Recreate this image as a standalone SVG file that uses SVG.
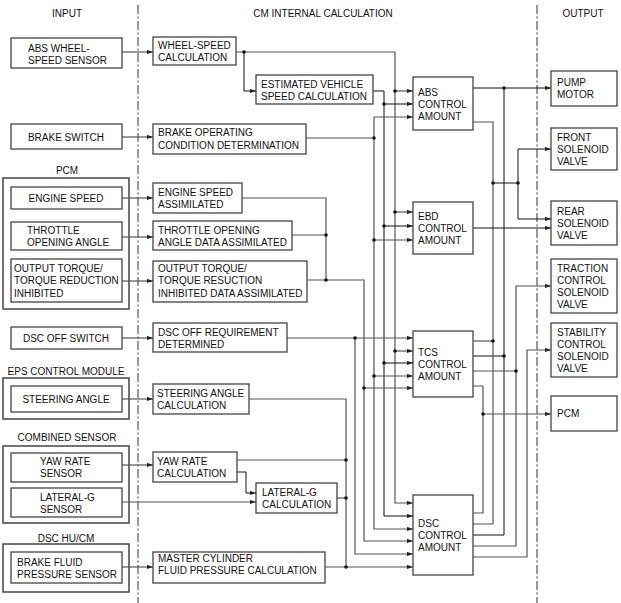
<svg xmlns="http://www.w3.org/2000/svg" width="621" height="603" viewBox="0 0 621 603">
<defs>
<marker id="ar" markerUnits="userSpaceOnUse" markerWidth="7" markerHeight="5" refX="6.5" refY="2.3" orient="auto"><path d="M0,0 L6.5,2.3 L0,4.6 z" fill="#222"/></marker>
<style>
text{font-family:"Liberation Sans",Arial,sans-serif;font-size:10px;fill:#111}
.c{text-anchor:middle}
rect{fill:#fff;stroke:#444;stroke-width:1.3}
.grp{fill:none;stroke:#444;stroke-width:1.5}
.ln{fill:none;stroke:#555;stroke-width:1.2}
.k{fill:none;stroke:#111;stroke-width:1}
.a{marker-end:url(#ar)}
.dd{fill:none;stroke:#333;stroke-width:1;stroke-dasharray:9 2.5 2 2.5}
circle{fill:#111}
</style>
</defs>
<rect x="0" y="0" width="621" height="603" style="fill:#fff;stroke:none"/>
<g id="dividers">
<path class="dd" d="M138,5 V603"/>
<path class="dd" d="M537,5 V603"/>
</g>
<g id="headers">
<text class="c" x="67" y="16.5">INPUT</text>
<text class="c" x="323" y="16.5">CM INTERNAL CALCULATION</text>
<text class="c" x="583" y="16.5">OUTPUT</text>
</g>
<g id="groups">
<text class="c" x="67" y="173.5">PCM</text>
<path class="grp" d="M3,178 H129 V309 H3 Z"/>
<text class="c" x="66" y="374.5">EPS CONTROL MODULE</text>
<path class="grp" d="M3,378 H129 V419 H3 Z"/>
<text class="c" x="67" y="440.5">COMBINED SENSOR</text>
<path class="grp" d="M3,446 H129 V523 H3 Z"/>
<text class="c" x="66" y="541.5">DSC HU/CM</text>
<path class="grp" d="M3,544 H129 V592 H3 Z"/>
</g>
<g id="connectors">
<path class="ln a" d="M122,52 H153"/>
<path class="ln a" d="M122,137 H153"/>
<path class="ln a" d="M122,198 H153"/>
<path class="ln a" d="M122,237 H153"/>
<path class="ln a" d="M122,281 H153"/>
<path class="ln a" d="M122,338 H153"/>
<path class="ln a" d="M122,399 H153"/>
<path class="ln a" d="M122,465 H153"/>
<path class="ln a" d="M122,502 H256"/>
<path class="ln a" d="M122,567 H153"/>
<path class="ln a" d="M236,52 H395 V503 H413"/>
<path class="k a" d="M244,52 V91 H256"/>
<path class="ln a" d="M395,91 H413"/>
<path class="ln a" d="M395,212 H413"/>
<path class="ln a" d="M395,351 H413"/>
<path class="k a" d="M373,91 H384 V516 H413"/>
<path class="k a" d="M384,104 H413"/>
<path class="k a" d="M384,226 H413"/>
<path class="k a" d="M384,363 H413"/>
<path class="ln" d="M306,138 H374"/>
<path class="ln a" d="M374,117 V529 H413"/>
<path class="ln a" d="M374,117 H413"/>
<path class="ln a" d="M374,240 H413"/>
<path class="ln a" d="M374,376 H413"/>
<path class="ln" d="M242,198 H326 V280"/>
<path class="ln" d="M292,235 H326"/>
<path class="ln a" d="M307,280 H364 V541 H413"/>
<path class="ln a" d="M364,388 H413"/>
<path class="ln a" d="M287,338 H413"/>
<path class="ln a" d="M355,338 V554 H413"/>
<path class="ln" d="M249,399 H346 V567"/>
<path class="ln" d="M237,460 H346"/>
<path class="k a" d="M237,472 H246 V493 H256"/>
<path class="ln" d="M337,498 H346"/>
<path class="ln a" d="M325,567 H413"/>
<path class="k a" d="M473,88 H551"/>
<path class="k" d="M504,88 V535 H473"/>
<path class="k" d="M473,356 H504"/>
<path class="ln" d="M473,122 H493 V524 H473"/>
<path class="ln" d="M473,341 H493"/>
<path class="k" d="M493,183 H518"/>
<path class="k a" d="M518,219 V149 H551"/>
<path class="k a" d="M518,219 H551"/>
<path class="k a" d="M473,228 H551"/>
<path class="ln a" d="M473,546 H516 V286 H551"/>
<path class="ln" d="M473,371 H516"/>
<path class="ln a" d="M473,557 H527 V350 H551"/>
<path class="ln" d="M473,386 H483 V513 H473"/>
<path class="ln a" d="M483,414 H551"/>
<circle cx="244" cy="52" r="1.8"/>
<circle cx="395" cy="91" r="1.8"/>
<circle cx="395" cy="212" r="1.8"/>
<circle cx="395" cy="351" r="1.8"/>
<circle cx="384" cy="104" r="1.8"/>
<circle cx="384" cy="226" r="1.8"/>
<circle cx="384" cy="363" r="1.8"/>
<circle cx="374" cy="138" r="1.8"/>
<circle cx="374" cy="240" r="1.8"/>
<circle cx="374" cy="376" r="1.8"/>
<circle cx="326" cy="235" r="1.8"/>
<circle cx="326" cy="280" r="1.8"/>
<circle cx="364" cy="388" r="1.8"/>
<circle cx="355" cy="338" r="1.8"/>
<circle cx="346" cy="460" r="1.8"/>
<circle cx="346" cy="498" r="1.8"/>
<circle cx="346" cy="567" r="1.8"/>
<circle cx="504" cy="88" r="1.8"/>
<circle cx="504" cy="356" r="1.8"/>
<circle cx="493" cy="183" r="1.8"/>
<circle cx="493" cy="341" r="1.8"/>
<circle cx="518" cy="183" r="1.8"/>
<circle cx="516" cy="371" r="1.8"/>
<circle cx="483" cy="414" r="1.8"/>
</g>
<g id="abs-wheel-speed-sensor"><rect x="11" y="38" width="111" height="30"/><text x="28" y="51.5">ABS WHEEL-</text><text x="28" y="63.5">SPEED SENSOR</text></g>
<g id="brake-switch"><rect x="11" y="124" width="111" height="25"/><text class="c" x="66" y="140.5">BRAKE SWITCH</text></g>
<g id="engine-speed"><rect x="11" y="187" width="111" height="22"/><text class="c" x="66" y="201.5">ENGINE SPEED</text></g>
<g id="throttle-opening-angle"><rect x="11" y="222" width="111" height="28"/><text x="27" y="233.5">THROTTLE</text><text x="27" y="245.5">OPENING ANGLE</text></g>
<g id="output-torque"><rect x="11" y="259" width="111" height="43"/><text x="14" y="271.5">OUTPUT TORQUE/</text><text x="14" y="284">TORQUE REDUCTION</text><text x="14" y="296.5">INHIBITED</text></g>
<g id="dsc-off-switch"><rect x="11" y="327" width="111" height="22"/><text class="c" x="66" y="341.5">DSC OFF SWITCH</text></g>
<g id="steering-angle"><rect x="11" y="386" width="111" height="26"/><text class="c" x="66" y="402.5">STEERING ANGLE</text></g>
<g id="yaw-rate-sensor"><rect x="11" y="453" width="111" height="29"/><text x="40" y="464.5">YAW RATE</text><text x="40" y="476.5">SENSOR</text></g>
<g id="lateral-g-sensor"><rect x="11" y="488" width="111" height="29"/><text x="40" y="500.5">LATERAL-G</text><text x="40" y="512.5">SENSOR</text></g>
<g id="brake-fluid-pressure-sensor"><rect x="11" y="552" width="111" height="31"/><text x="17" y="565.5">BRAKE FLUID</text><text x="17" y="577.5">PRESSURE SENSOR</text></g>
<g id="wheel-speed-calculation"><rect x="153" y="37" width="83" height="28"/><text x="158" y="48.5">WHEEL-SPEED</text><text x="158" y="60.5">CALCULATION</text></g>
<g id="estimated-vehicle-speed"><rect x="256" y="75" width="117" height="29"/><text x="261" y="87.5">ESTIMATED VEHICLE</text><text x="261" y="99.5">SPEED CALCULATION</text></g>
<g id="brake-operating-condition"><rect x="153" y="124" width="153" height="30"/><text x="158" y="135.5">BRAKE OPERATING</text><text x="158" y="148.5">CONDITION DETERMINATION</text></g>
<g id="engine-speed-assimilated"><rect x="153" y="183" width="89" height="30"/><text x="158" y="195.5">ENGINE SPEED</text><text x="158" y="207.5">ASSIMILATED</text></g>
<g id="throttle-data-assimilated"><rect x="153" y="221" width="139" height="29"/><text x="158" y="233.5">THROTTLE OPENING</text><text x="158" y="245.5">ANGLE DATA ASSIMILATED</text></g>
<g id="torque-data-assimilated"><rect x="153" y="261" width="154" height="41"/><text x="158" y="271.5">OUTPUT TORQUE/</text><text x="158" y="284">TORQUE RESUCTION</text><text x="158" y="296.5">INHIBITED DATA ASSIMILATED</text></g>
<g id="dsc-off-requirement"><rect x="153" y="323" width="134" height="29"/><text x="158" y="335.5">DSC OFF REQUIREMENT</text><text x="158" y="347.5">DETERMINED</text></g>
<g id="steering-angle-calculation"><rect x="153" y="384" width="96" height="30"/><text x="157" y="396.5">STEERING ANGLE</text><text x="157" y="408.5">CALCULATION</text></g>
<g id="yaw-rate-calculation"><rect x="153" y="452" width="84" height="30"/><text x="157" y="464.5">YAW RATE</text><text x="157" y="476.5">CALCULATION</text></g>
<g id="lateral-g-calculation"><rect x="256" y="483" width="81" height="30"/><text x="262" y="495.5">LATERAL-G</text><text x="262" y="507.5">CALCULATION</text></g>
<g id="master-cylinder-calculation"><rect x="153" y="552" width="172" height="31"/><text x="158" y="561.5">MASTER CYLINDER</text><text x="158" y="573.5">FLUID PRESSURE CALCULATION</text></g>
<g id="abs-control-amount"><rect x="413" y="77" width="60" height="53"/><text x="418" y="95.5">ABS</text><text x="418" y="107.5">CONTROL</text><text x="418" y="119.5">AMOUNT</text></g>
<g id="ebd-control-amount"><rect x="413" y="202" width="60" height="52"/><text x="418" y="219.5">EBD</text><text x="418" y="231.5">CONTROL</text><text x="418" y="243.5">AMOUNT</text></g>
<g id="tcs-control-amount"><rect x="413" y="331" width="60" height="66"/><text x="418" y="355.5">TCS</text><text x="418" y="367.5">CONTROL</text><text x="418" y="379.5">AMOUNT</text></g>
<g id="dsc-control-amount"><rect x="413" y="495" width="60" height="80"/><text x="418" y="526.5">DSC</text><text x="418" y="538.5">CONTROL</text><text x="418" y="550.5">AMOUNT</text></g>
<g id="pump-motor"><rect x="551" y="71" width="66" height="35"/><text x="557" y="85.5">PUMP</text><text x="557" y="98">MOTOR</text></g>
<g id="front-solenoid-valve"><rect x="551" y="128" width="66" height="42"/><text x="557" y="140.5">FRONT</text><text x="557" y="152.5">SOLENOID</text><text x="557" y="164.5">VALVE</text></g>
<g id="rear-solenoid-valve"><rect x="551" y="201" width="66" height="44"/><text x="557" y="214.5">REAR</text><text x="557" y="226.5">SOLENOID</text><text x="557" y="238.5">VALVE</text></g>
<g id="traction-control-solenoid-valve"><rect x="551" y="259" width="66" height="54"/><text x="557" y="271.5">TRACTION</text><text x="557" y="283.5">CONTROL</text><text x="557" y="295.5">SOLENOID</text><text x="557" y="307.5">VALVE</text></g>
<g id="stability-control-solenoid-valve"><rect x="551" y="323" width="66" height="54"/><text x="557" y="335.5">STABILITY</text><text x="557" y="347.5">CONTROL</text><text x="557" y="359.5">SOLENOID</text><text x="557" y="371.5">VALVE</text></g>
<g id="pcm-output"><rect x="551" y="396" width="66" height="35"/><text x="557" y="416.5">PCM</text></g>
</svg>
